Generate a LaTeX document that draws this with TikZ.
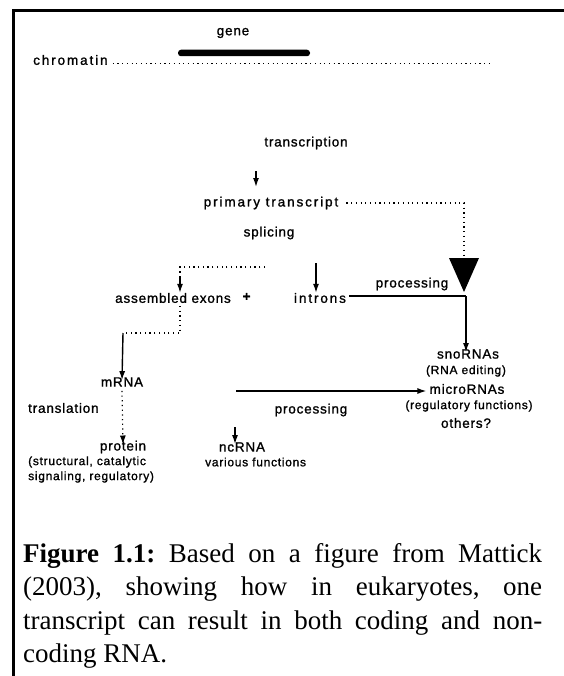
\documentclass[tikz,border=0pt]{standalone}
\usepackage{fontspec}
\setmainfont{Liberation Serif}
\newfontfamily\labfont{Liberation Sans}[LetterSpace=6,FakeBold=1.2]
\newfontfamily\widelabfont{Liberation Sans}[LetterSpace=14,FakeBold=1.2]
\usetikzlibrary{arrows.meta}
\begin{document}
\begin{tikzpicture}[x=1bp,y=-1bp,
  lbl/.style={font=\labfont\fontsize{13.5bp}{16bp}\selectfont, inner sep=0pt},
  widelbl/.style={font=\widelabfont\fontsize{13.5bp}{16bp}\selectfont, inner sep=0pt},
  small/.style={font=\labfont\fontsize{12bp}{15bp}\selectfont, inner sep=0pt},
  conn/.style={line width=1.4bp, -{Latex[length=9bp,width=6bp]}},
  plain/.style={line width=1.4bp},
  dots/.style={line width=1.2bp, dash pattern=on 1.2bp off 3.5bp},
]
\useasboundingbox (0,0) rectangle (564,676);
% frame
\draw[line width=3bp] (13,676) -- (13,11) -- (564,11);

% chromatin with the gene on it
\node[widelbl, anchor=west] (chrom) at (33,60) {chromatin};
\coordinate (chromend) at (490,64);
\draw[dots, line width=1bp] ([xshift=5bp]chrom.east |- chromend) -- (chromend);
\node[fill, rounded corners=3bp, minimum width=132bp, minimum height=6.5bp, inner sep=0pt] (genebar) at (244,53) {};
\node[lbl] (gene) at (233,33) {gene};

% transcription
\node[lbl] (transc) at (306,143) {transcription};
\coordinate (a1s) at (256,171);
\coordinate (a1e) at (256,187);
\draw[conn] (a1s) -- (a1e);
\node[widelbl] (primary) at (271,203) {primary transcript};
\node[lbl] (splicing) at (269,233) {splicing};

% direct route to small RNAs
\coordinate (dcorner) at (464,203);
\coordinate (dend) at (464,259);
\draw[dots] ([xshift=8bp]primary.east) -- (dcorner) -- (dend);
\fill (449,258) -- (479,258) -- (464,292) -- cycle;

% splicing products
\node[lbl] (exons) at (173,298) {assembled exons};
\node[lbl] (plus) at (247,297) {\textbf{+}};
\node[widelbl] (introns) at (320,298) {introns};
\coordinate (sp1) at (265,267);
\coordinate (sp2) at (180,267);
\coordinate (sp3) at (180,277);
\draw[dots] (sp1) -- (sp2) -- (sp3);
\draw[conn] (sp3) -- (exons.north -| sp2);
\coordinate (sp4) at (316,263);
\draw[conn] (sp4) -- (introns.north -| sp4);

% small RNAs
\node[lbl] (sno) at (468,354) {snoRNAs};
\node[small] (rnaed) at (466,371) {(RNA editing)};
\node[lbl] (micro) at (467,389) {microRNAs};
\node[small] (regf) at (469,406) {(regulatory functions)};
\node[lbl] (others) at (466,423) {others?};

\coordinate (pc) at (466,296);
\draw[plain] ([xshift=3bp]introns.east |- pc) -- (pc);
\draw[conn] (pc) -- ([yshift=-3bp]pc |- sno.north);
\node[lbl] (proc1) at (412,284) {processing};

% exons to mRNA
\coordinate (ex1) at (180,306);
\coordinate (ex2) at (180,333);
\coordinate (ex3) at (123,333);
\draw[dots] (ex1) -- (ex2) -- (ex3);
\node[lbl] (mrna) at (122,382) {mRNA};
\draw[conn] (ex3) -- ([yshift=-3bp]mrna.north);

% translation
\node[lbl, anchor=west] (transl) at (28,408) {translation};
\node[lbl] (protein) at (123,447) {protein};
\draw[dots, -{Latex[length=9bp,width=6bp]}] ([yshift=-4bp]mrna.south) -- ([yshift=-4bp]protein.north);
\node[small, anchor=west] (pr1) at (28,462) {(structural, catalytic};
\node[small, anchor=west] (pr2) at (28,477) {signaling, regulatory)};

% mRNA processing
\coordinate (mp) at (236,391);
\draw[conn] (mp) -- ([xshift=-3bp]micro.west |- mp);
\node[lbl] (proc2) at (311,410) {processing};
\node[lbl] (ncrna) at (242,447) {ncRNA};
\coordinate (nc1) at (235,427);
\draw[conn] (nc1) -- ([yshift=-2bp]ncrna.north -| nc1);
\node[small, anchor=west] (ncf) at (205,462) {various functions};

% caption
\node[anchor=north west, inner sep=0pt, text width=519bp, align=justify,
      font=\fontsize{27bp}{33.5bp}\selectfont] (caption) at (23,543)
  {\frenchspacing\textbf{Figure 1.1:} Based on a figure from Mattick\linebreak
   (2003), showing how in eukaryotes, one\linebreak
   transcript can result in both coding and non-\linebreak
   coding RNA.};
\end{tikzpicture}
\end{document}
